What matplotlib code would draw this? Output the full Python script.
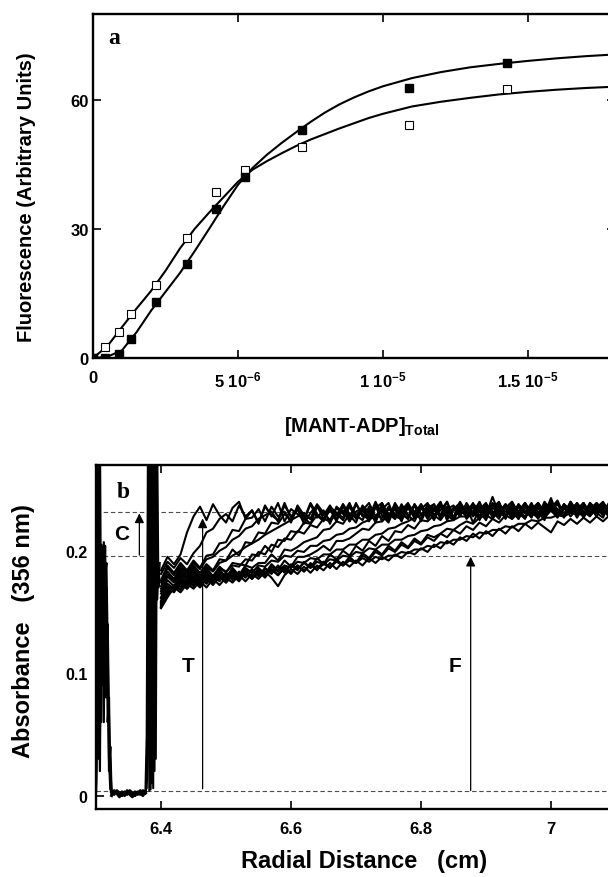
import matplotlib
matplotlib.use("Agg")
import matplotlib.pyplot as plt
import numpy as np

# ---- panel a: MANT-ADP titration (x in units of 1e-6 M) ----
filled_x = [0, 0.43, 0.88, 1.31, 2.17, 3.23, 4.25, 5.25, 7.21, 10.88, 14.26]
filled_y = [0, 0, 0.85, 4.4, 13.1, 21.8, 34.6, 42.1, 53.0, 62.7, 68.7]
open_x = [0, 0.43, 0.88, 1.31, 2.17, 3.23, 4.25, 5.25, 7.21, 10.88, 14.26]
open_y = [0, 2.5, 6.1, 10.2, 17.0, 27.8, 38.6, 43.7, 49.1, 54.1, 62.6]

fit_x = [0, 0.5, 1.0, 1.5, 2.0, 2.5, 3.0, 3.5, 4.0, 4.5, 5.0, 5.5, 6.0, 6.5, 7.0,
         7.5, 8.0, 8.5, 9.0, 9.5, 10.0, 11.0, 12.0, 13.0, 14.0, 15.0, 16.0, 17.0, 18.0]
fit_filled = [0, 0.3, 1.8, 6.0, 11.0, 15.4, 19.8, 24.8, 30.0, 35.3, 40.3, 44.2, 47.3,
              50.0, 52.5, 54.9, 57.1, 59.0, 60.6, 62.0, 63.2, 65.1, 66.5, 67.6, 68.4,
              69.1, 69.7, 70.2, 70.6]
fit_open = [0, 2.8, 7.2, 11.5, 15.6, 20.3, 25.5, 30.0, 33.8, 37.4, 41.0, 43.8, 45.8,
            47.6, 49.3, 50.8, 52.1, 53.4, 54.6, 55.8, 56.8, 58.5, 59.6, 60.5, 61.3,
            61.9, 62.4, 62.8, 63.1]

a_xticks = [0, 5, 10, 15]
a_xticklabels = ["0", r"5 10$^{-6}$", r"1 10$^{-5}$", r"1.5 10$^{-5}$"]
a_yticks = [0, 30, 60]

# ---- panel b: absorbance scans (thousandths of A356) ----
radius = [6.40, 6.41, 6.42, 6.43, 6.44, 6.45, 6.46, 6.47, 6.48, 6.49, 6.50, 6.51,
          6.52, 6.53, 6.54, 6.55, 6.56, 6.57, 6.58, 6.59, 6.60, 6.61, 6.62, 6.63,
          6.64, 6.65, 6.66, 6.67, 6.68, 6.69, 6.70, 6.71, 6.72, 6.73, 6.74, 6.75,
          6.76, 6.77, 6.78, 6.79, 6.80, 6.81, 6.82, 6.83, 6.84, 6.85, 6.86, 6.87,
          6.88, 6.89, 6.90, 6.91, 6.92, 6.93, 6.94, 6.95, 6.96, 6.97, 6.98, 6.99,
          7.00, 7.01, 7.02, 7.03, 7.04, 7.05, 7.06, 7.07, 7.08, 7.09, 7.10]

scan_01 = [184, 195, 189, 197, 215, 228, 236, 225, 238, 229, 223, 235, 240, 226, 233, 222,
           237, 228, 239, 224, 234, 230, 225, 238, 227, 233, 222, 236, 231, 226, 239, 228,
           234, 223, 237, 230, 226, 238, 229, 224, 235, 232, 227, 239, 225, 234, 229, 236,
           223, 233, 238, 228, 235, 226, 240, 231, 227, 237, 232, 225, 241, 230, 236, 228,
           234, 239, 229, 233, 236, 227, 238]
scan_02 = [181, 191, 186, 194, 189, 198, 204, 215, 218, 226, 230, 224, 237, 228, 233, 223,
           236, 229, 225, 239, 227, 234, 222, 231, 237, 226, 233, 229, 238, 224, 232, 235,
           227, 240, 229, 223, 236, 231, 226, 238, 230, 234, 225, 237, 228, 233, 239, 226,
           232, 236, 229, 244, 230, 235, 227, 238, 231, 236, 226, 234, 240, 229, 235, 231,
           237, 228, 234, 239, 230, 236, 232]
scan_03 = [176, 188, 182, 190, 184, 192, 186, 196, 197, 206, 207, 217, 216, 226, 227, 234,
           224, 236, 228, 232, 223, 237, 229, 226, 238, 231, 225, 235, 230, 239, 226, 233,
           228, 237, 224, 234, 230, 227, 238, 232, 226, 236, 229, 233, 240, 227, 234, 230,
           237, 225, 235, 232, 228, 238, 231, 236, 227, 234, 239, 230, 243, 228, 235, 232,
           238, 229, 234, 237, 231, 239, 233]
scan_04 = [174, 186, 180, 188, 182, 190, 185, 193, 195, 200, 203, 209, 212, 218, 220, 226,
           229, 232, 224, 237, 228, 234, 226, 239, 230, 225, 236, 231, 227, 238, 229, 234,
           224, 237, 232, 226, 239, 230, 235, 227, 238, 229, 233, 240, 226, 235, 231, 237,
           228, 234, 239, 227, 236, 232, 229, 238, 231, 235, 228, 240, 233, 229, 237, 232,
           236, 228, 239, 234, 231, 237, 233]
scan_05 = [171, 183, 177, 186, 180, 188, 182, 189, 184, 193, 192, 201, 196, 207, 206, 215,
           214, 223, 222, 230, 225, 234, 227, 222, 236, 229, 237, 226, 233, 224, 238, 230,
           225, 235, 239, 228, 234, 224, 237, 231, 238, 227, 235, 229, 240, 226, 234, 228,
           237, 232, 225, 238, 230, 235, 240, 228, 236, 231, 227, 238, 233, 240, 229, 235,
           238, 227, 236, 231, 239, 230, 237]
scan_06 = [169, 181, 175, 184, 178, 186, 180, 187, 183, 190, 192, 196, 199, 203, 206, 209,
           213, 216, 219, 222, 225, 228, 231, 226, 237, 229, 234, 224, 238, 230, 227, 236,
           232, 225, 239, 229, 235, 228, 237, 231, 226, 238, 233, 229, 236, 227, 240, 231,
           235, 228, 238, 232, 226, 237, 234, 229, 239, 231, 236, 228, 238, 233, 230, 240,
           232, 236, 229, 238, 234, 230, 237]
scan_07 = [167, 179, 174, 182, 176, 184, 178, 186, 179, 187, 182, 190, 189, 188, 197, 196,
           204, 199, 209, 208, 216, 215, 223, 222, 229, 224, 234, 226, 236, 229, 223, 237,
           230, 225, 234, 239, 226, 236, 228, 237, 224, 235, 238, 227, 233, 226, 237, 230,
           238, 234, 227, 236, 239, 229, 235, 226, 238, 231, 236, 228, 238, 234, 227, 240,
           232, 228, 237, 231, 227, 239, 235]
scan_08 = [165, 176, 171, 180, 174, 183, 177, 185, 179, 186, 183, 188, 187, 193, 192, 199,
           197, 205, 203, 210, 209, 216, 214, 221, 219, 226, 224, 230, 225, 236, 227, 233,
           239, 228, 235, 226, 238, 231, 236, 227, 234, 239, 229, 236, 232, 227, 238, 233,
           229, 237, 231, 239, 228, 235, 237, 230, 236, 228, 239, 232, 235, 241, 229, 236,
           231, 238, 229, 235, 240, 231, 236]
scan_09 = [162, 173, 169, 178, 172, 181, 175, 183, 177, 185, 178, 186, 180, 188, 186, 190,
           190, 197, 192, 201, 200, 203, 207, 209, 211, 217, 218, 224, 222, 230, 229, 225,
           236, 227, 234, 224, 237, 230, 226, 238, 229, 235, 228, 238, 226, 234, 239, 229,
           232, 237, 228, 235, 240, 227, 236, 231, 226, 238, 229, 235, 239, 228, 234, 237,
           227, 236, 230, 239, 234, 227, 237]
scan_10 = [161, 171, 168, 176, 171, 179, 174, 181, 176, 183, 178, 184, 180, 186, 182, 188,
           187, 192, 191, 196, 195, 200, 199, 204, 204, 208, 209, 213, 214, 218, 219, 223,
           225, 229, 227, 236, 229, 233, 239, 228, 235, 230, 238, 226, 234, 237, 229, 236,
           231, 240, 228, 235, 232, 238, 229, 236, 233, 227, 239, 231, 235, 230, 238, 233,
           229, 237, 234, 231, 239, 232, 236]
scan_11 = [159, 170, 166, 175, 169, 177, 172, 180, 174, 182, 175, 183, 177, 185, 178, 186,
           181, 189, 184, 192, 187, 195, 195, 197, 200, 204, 200, 208, 208, 210, 214, 218,
           217, 223, 224, 229, 228, 226, 235, 229, 236, 226, 233, 238, 229, 225, 236, 231,
           239, 228, 234, 237, 229, 236, 226, 237, 231, 239, 228, 236, 233, 227, 238, 232,
           239, 229, 236, 228, 238, 233, 240]
scan_12 = [158, 169, 167, 174, 170, 177, 172, 179, 175, 181, 176, 182, 178, 184, 179, 185,
           181, 187, 183, 188, 186, 191, 190, 194, 193, 197, 197, 201, 201, 205, 205, 209,
           209, 213, 214, 218, 219, 222, 224, 227, 229, 233, 227, 237, 230, 235, 228, 239,
           231, 236, 229, 238, 233, 227, 237, 232, 239, 230, 235, 228, 238, 234, 230, 237,
           232, 239, 229, 236, 233, 238, 231]
scan_13 = [157, 167, 172, 168, 176, 171, 178, 173, 180, 175, 182, 176, 183, 178, 185, 179,
           186, 181, 188, 182, 189, 184, 191, 186, 194, 189, 197, 193, 200, 196, 204, 200,
           208, 204, 212, 208, 216, 215, 221, 218, 225, 224, 229, 225, 233, 227, 236, 228,
           238, 226, 233, 237, 228, 237, 232, 226, 236, 230, 239, 229, 236, 228, 237, 231,
           239, 232, 228, 237, 231, 240, 234]
scan_14 = [156, 166, 170, 169, 174, 172, 176, 174, 179, 176, 181, 177, 182, 179, 184, 180,
           185, 182, 187, 183, 188, 185, 190, 186, 191, 189, 193, 192, 196, 195, 199, 198,
           202, 201, 205, 205, 209, 209, 212, 213, 216, 217, 220, 221, 224, 225, 228, 228,
           231, 227, 236, 230, 238, 228, 235, 232, 239, 229, 236, 231, 238, 233, 228, 237,
           234, 230, 239, 232, 236, 229, 238]
scan_15 = [155, 164, 169, 173, 169, 175, 170, 177, 172, 179, 174, 180, 175, 182, 177, 183,
           178, 185, 180, 186, 181, 188, 183, 189, 184, 191, 186, 192, 188, 195, 190, 198,
           194, 201, 197, 204, 200, 207, 203, 210, 206, 213, 211, 214, 218, 217, 221, 224,
           222, 227, 229, 226, 233, 227, 236, 229, 238, 228, 236, 227, 233, 238, 229, 236,
           228, 239, 231, 236, 229, 237, 232]
scan_16 = [154, 166, 168, 174, 170, 176, 171, 178, 173, 180, 174, 181, 176, 182, 177, 184,
           179, 185, 180, 187, 182, 188, 183, 190, 185, 191, 186, 193, 188, 194, 190, 196,
           193, 199, 196, 202, 199, 205, 202, 208, 205, 211, 208, 214, 211, 217, 214, 220,
           217, 223, 220, 226, 223, 229, 226, 231, 228, 234, 230, 236, 233, 228, 238, 231,
           235, 228, 237, 233, 230, 238, 234]
scan_17 = [154, 164, 169, 171, 171, 174, 172, 176, 174, 178, 175, 179, 177, 181, 178, 182,
           180, 184, 181, 185, 182, 187, 184, 188, 185, 189, 187, 191, 188, 192, 190, 194,
           191, 195, 193, 196, 196, 199, 198, 201, 201, 204, 203, 207, 206, 209, 209, 212,
           211, 215, 214, 217, 217, 220, 219, 222, 222, 225, 224, 227, 227, 229, 228, 231,
           230, 235, 229, 237, 232, 238, 233]
scan_18 = [153, 162, 170, 166, 173, 169, 175, 170, 177, 172, 178, 174, 180, 175, 181, 177,
           183, 178, 171, 180, 185, 181, 187, 182, 188, 184, 190, 185, 191, 187, 192, 188,
           194, 190, 195, 192, 197, 194, 199, 197, 202, 199, 205, 202, 208, 205, 211, 208,
           214, 210, 216, 212, 218, 214, 220, 216, 222, 218, 223, 219, 215, 224, 221, 226,
           222, 227, 223, 228, 224, 229, 226]
scans = [scan_01, scan_02, scan_03, scan_04, scan_05, scan_06, scan_07, scan_08,
         scan_09, scan_10, scan_11, scan_12, scan_13, scan_14, scan_15, scan_16,
         scan_17, scan_18]

# meniscus / reference region and the sample window edge (absorbance units)
meniscus_x = [6.300, 6.302, 6.304, 6.306, 6.308, 6.310, 6.312, 6.314, 6.316, 6.318,
              6.320, 6.322, 6.324]
meniscus_1 = [0.010, 0.140, 0.030, 0.190, 0.060, 0.200, 0.150, 0.204, 0.110, 0.140,
              0.060, 0.020, 0.003]
meniscus_2 = [0.005, 0.060, 0.170, 0.020, 0.205, 0.090, 0.207, 0.120, 0.170, 0.060,
              0.080, 0.010, 0.002]
meniscus_3 = [0.020, 0.300, 0.040, 0.300, 0.100, 0.180, 0.060, 0.190, 0.080, 0.100,
              0.030, 0.005, 0.004]
meniscus_4 = [0.003, 0.100, 0.200, 0.050, 0.150, 0.195, 0.100, 0.180, 0.190, 0.120,
              0.020, 0.040, 0.001]
floor_x = [6.324, 6.328, 6.332, 6.336, 6.340, 6.344, 6.348, 6.352, 6.356, 6.360,
           6.364, 6.368, 6.372, 6.376]
floor_1 = [0.003, 0.001, 0.004, 0.002, 0.000, 0.003, 0.001, 0.004, 0.002, 0.000,
           0.003, 0.001, 0.004, 0.002]
floor_2 = [0.000, 0.004, 0.002, -0.001, 0.003, 0.000, 0.004, 0.001, -0.001, 0.003,
           0.001, 0.004, 0.000, 0.003]
window_x = [6.376, 6.378, 6.380, 6.382, 6.384, 6.386, 6.388, 6.390, 6.392, 6.394,
            6.396, 6.398]
window_1 = [0.002, 0.050, 0.300, 0.004, 0.300, 0.010, 0.300, 0.020, 0.300, 0.160,
            0.185, 0.175]
window_2 = [0.004, 0.006, 0.040, 0.300, 0.005, 0.300, 0.006, 0.300, 0.030, 0.300,
            0.170, 0.190]

levels = [0.2313, 0.1956, 0.0036]  # total, free, baseline
arrow_x = [6.3667, 6.464, 6.8764]
arrow_from = [0.1964, 0.0055, 0.0041]
arrow_to = [0.2305, 0.2264, 0.1951]
arrow_labels = ["C", "T", "F"]
label_x = [6.3395, 6.442, 6.8517]
label_y = [0.2142, 0.1064, 0.1064]

b_xticks = [6.4, 6.6, 6.8, 7.0]
b_xticklabels = ["6.4", "6.6", "6.8", "7"]
b_yticks = [0, 0.1, 0.2]
b_yticklabels = ["0", "0.1", "0.2"]

plt.rcParams["font.family"] = ["Liberation Sans", "DejaVu Sans"]
plt.rcParams["font.weight"] = "bold"
plt.rcParams["axes.labelweight"] = "bold"
plt.rcParams["mathtext.fontset"] = "custom"
plt.rcParams["mathtext.rm"] = "Liberation Sans:bold"
plt.rcParams["mathtext.it"] = "Liberation Sans:bold"
plt.rcParams["mathtext.bf"] = "Liberation Sans:bold"
plt.rcParams["mathtext.default"] = "rm"

fig = plt.figure(figsize=(6.08, 8.78), dpi=100)
ax_a = fig.add_axes([0.1530, 0.5911, 0.8586, 0.3918])
ax_b = fig.add_axes([0.1579, 0.0774, 0.8553, 0.3918])

for ax in (ax_a, ax_b):
    for sp in ax.spines.values():
        sp.set_linewidth(1.7)
    ax.tick_params(direction="in", length=5.5, width=1.2, top=True, right=True,
                   labelsize=12)

# panel a
ax_a.plot(fit_x, fit_filled, color="k", lw=1.5, zorder=2)
ax_a.plot(fit_x, fit_open, color="k", lw=1.5, zorder=2)
ax_a.plot(open_x, open_y, "s", ms=6.2, mfc="white", mec="k", mew=0.8, zorder=3)
ax_a.plot(filled_x, filled_y, "s", ms=6.2, mfc="k", mec="k", zorder=4)
ax_a.set_xlim(0, 18)
ax_a.set_ylim(0, 80)
ax_a.set_xticks(a_xticks)
ax_a.set_xticklabels(a_xticklabels)
ax_a.set_yticks(a_yticks)
ax_a.tick_params(axis="x", pad=8.5)
ax_a.tick_params(axis="y", pad=3)
ax_a.set_ylabel("Fluorescence (Arbitrary Units)", fontsize=14.5, va="center",
                rotation_mode="anchor")
ax_a.yaxis.set_label_coords(-0.128, 0.4695)
ax_a.set_xlabel(r"[MANT-ADP]$_{\mathrm{Total}}$", fontsize=14.5, va="baseline")
ax_a.xaxis.set_label_coords(0.515, -0.212)
ax_a.text(0.54, 73.2, "a", family="Liberation Serif", fontsize=17, fontweight="bold")

# panel b
for lv in levels:
    ax_b.axhline(lv, ls=(0, (4, 2.5)), lw=0.8, color="0.3", zorder=1)
r = np.array(radius)
for scan in scans:
    ax_b.plot(r, np.array(scan) / 1000.0, color="k", lw=1.5, zorder=2)
for m in (meniscus_1, meniscus_2, meniscus_3, meniscus_4):
    ax_b.plot(meniscus_x, m, color="k", lw=1.6, zorder=2)
for f in (floor_1, floor_2):
    ax_b.plot(floor_x, f, color="k", lw=2.2, zorder=2)
for w in (window_1, window_2):
    ax_b.plot(window_x, w, color="k", lw=1.5, zorder=2)

for x0, y0, y1 in zip(arrow_x, arrow_from, arrow_to):
    ax_b.annotate("", xy=(x0, y1), xytext=(x0, y0),
                  arrowprops=dict(arrowstyle="-|>", color="k", lw=0.9,
                                  mutation_scale=14, shrinkA=0, shrinkB=0),
                  zorder=3)
for lx, ly, s in zip(label_x, label_y, arrow_labels):
    ax_b.text(lx, ly, s, fontsize=15, ha="center", va="center")
ax_b.text(6.3323, 0.2442, "b", family="Liberation Serif", fontsize=17,
          fontweight="bold")

ax_b.set_xlim(6.3, 7.1)
ax_b.set_ylim(-0.011, 0.27)
ax_b.set_xticks(b_xticks)
ax_b.set_xticklabels(b_xticklabels)
ax_b.set_yticks(b_yticks)
ax_b.set_yticklabels(b_yticklabels)
ax_b.tick_params(axis="x", pad=8.5)
ax_b.tick_params(axis="y", pad=6, labelsize=11.5)
ax_b.set_ylabel("Absorbance   (356 nm)", fontsize=17, va="center",
                rotation_mode="anchor")
ax_b.yaxis.set_label_coords(-0.1385, 0.5206)
ax_b.set_xlabel("Radial Distance   (cm)", fontsize=17, va="center")
ax_b.xaxis.set_label_coords(0.5146, -0.151)

fig.savefig("out.png", dpi=100)
